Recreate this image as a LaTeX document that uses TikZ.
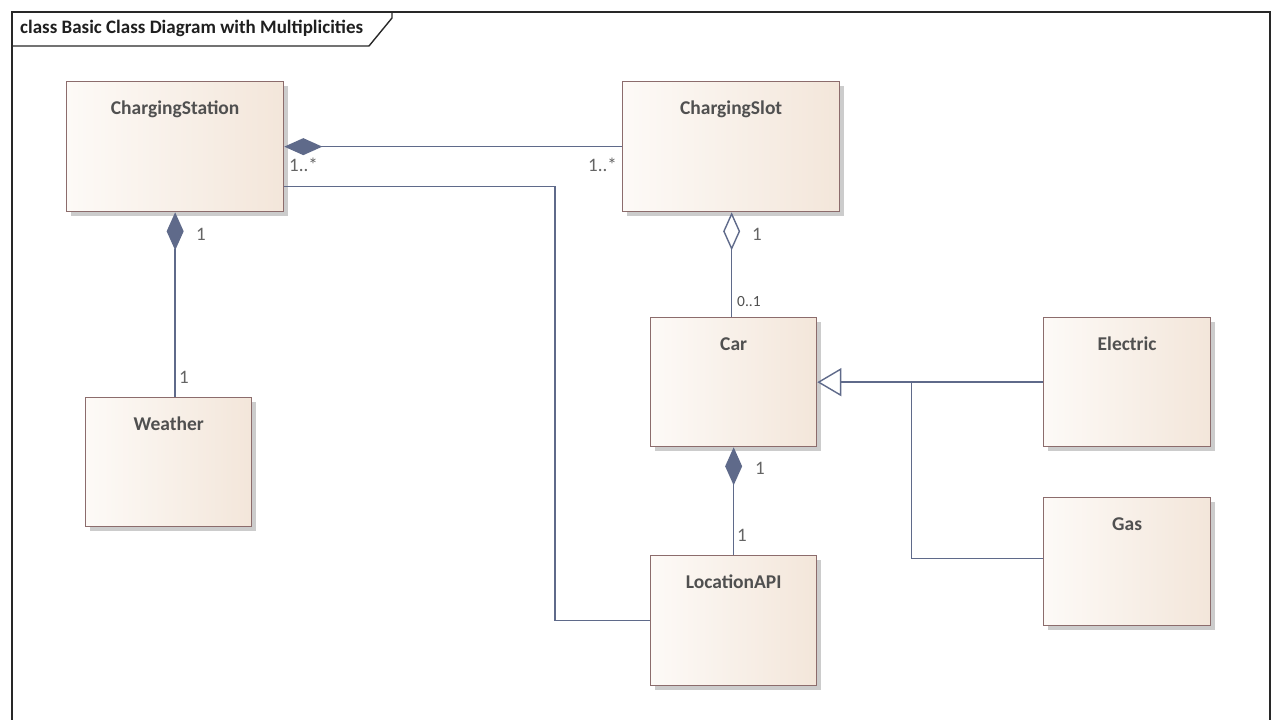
\documentclass[tikz,border=0pt]{standalone}
\usepackage{fontspec}
\setmainfont{Carlito}
\usetikzlibrary{arrows.meta,shadows,calc}

\definecolor{frameline}{RGB}{40,40,40}
\definecolor{boxborder}{RGB}{140,108,108}
\definecolor{boxleft}{RGB}{253,250,247}
\definecolor{boxright}{RGB}{243,230,218}
\definecolor{boxtext}{RGB}{80,80,80}
\definecolor{wire}{RGB}{95,106,138}
\definecolor{multtext}{RGB}{100,100,100}

\tikzset{
  classbox/.style={draw=boxborder, line width=1.3pt, shading=axis,
    left color=boxleft, right color=boxright, shading angle=90,
    anchor=north west, inner sep=0pt,
    drop shadow={shadow xshift=4pt, shadow yshift=-4pt, fill=black!20, opacity=1}},
  classname/.style={font=\bfseries\fontsize{19.5}{22}\selectfont, text=boxtext},
  assoc/.style={draw=wire, line width=1.4pt},
  compose/.style={assoc, {Diamond[length=38pt,width=17pt,fill=wire]}-},
  aggregate/.style={assoc, {Diamond[length=38pt,width=17pt,open,fill=white]}-},
  inherit/.style={assoc, {Triangle[length=24pt,width=28pt,open,fill=white]}-},
  mult/.style={font=\fontsize{19}{21}\selectfont, text=multtext, inner sep=0pt},
  multsmall/.style={font=\fontsize{15.5}{17}\selectfont, text=boxtext, inner sep=0pt}
}

\newcommand{\classnode}[6]{%
  \node[classbox, minimum width=#4pt, minimum height=#5pt] (#1) at (#2,#3) {};
  \node[classname, anchor=base] (#1-name) at ($(#1.north)+(0,33)$) {#6};
}

\begin{document}
\begin{tikzpicture}[x=1pt,y=-1pt]
\useasboundingbox (0,0) rectangle (1280,720);
\fill[white] (0,0) rectangle (1280,720);

% diagram frame and title tab
\draw[frameline, line width=1.4pt] (12,740) -- (12,12) -- (1270,12) -- (1270,740);
\draw[frameline, line width=1.4pt] (12,46) -- (369,46) -- (392,18) -- (392,12);
\node[anchor=base west, font=\bfseries\fontsize{19}{21}\selectfont, text=black!88, inner sep=0pt]
  (title) at (20,34) {class Basic Class Diagram with Multiplicities};

% classes
\classnode{station}{66}{81}{217}{130}{ChargingStation}
\classnode{slot}{622}{81}{217}{130}{ChargingSlot}
\classnode{weather}{85}{397}{166}{129}{Weather}
\classnode{car}{650}{317}{166}{129}{Car}
\classnode{electric}{1043}{317}{167}{129}{Electric}
\classnode{gas}{1043}{497}{167}{128}{Gas}
\classnode{api}{650}{555}{166}{130}{LocationAPI}

% associations
\draw[compose] (station.east) -- (slot.west);
\draw[assoc] ([yshift=-40pt]station.east) -| ($(api.west)+(-95,0)$) -- (api.west);
\draw[compose] (station.south) -- (station.south |- weather.north);
\draw[aggregate] ([xshift=0.5pt]slot.south) -- ([xshift=0.5pt]slot.south |- car.north);
\draw[compose] (car.south) -- (api.north);

% generalizations
\draw[inherit] (car.east) -- (electric.west);
\draw[assoc] ([yshift=3pt]gas.west) -| ($(car.east)+(94,0)$);

% multiplicities
\node[mult, anchor=base west] (m1) at (289,171) {1..*};
\node[mult, anchor=base west] (m2) at (588,171) {1..*};
\node[mult, anchor=base west] (m3) at (196,240) {1};
\node[mult, anchor=base west] (m4) at (179,383) {1};
\node[mult, anchor=base west] (m5) at (752,240) {1};
\node[multsmall, anchor=base west] (m6) at (737,306) {0..1};
\node[mult, anchor=base west] (m7) at (755,474) {1};
\node[mult, anchor=base west] (m8) at (737,541) {1};
\end{tikzpicture}
\end{document}
